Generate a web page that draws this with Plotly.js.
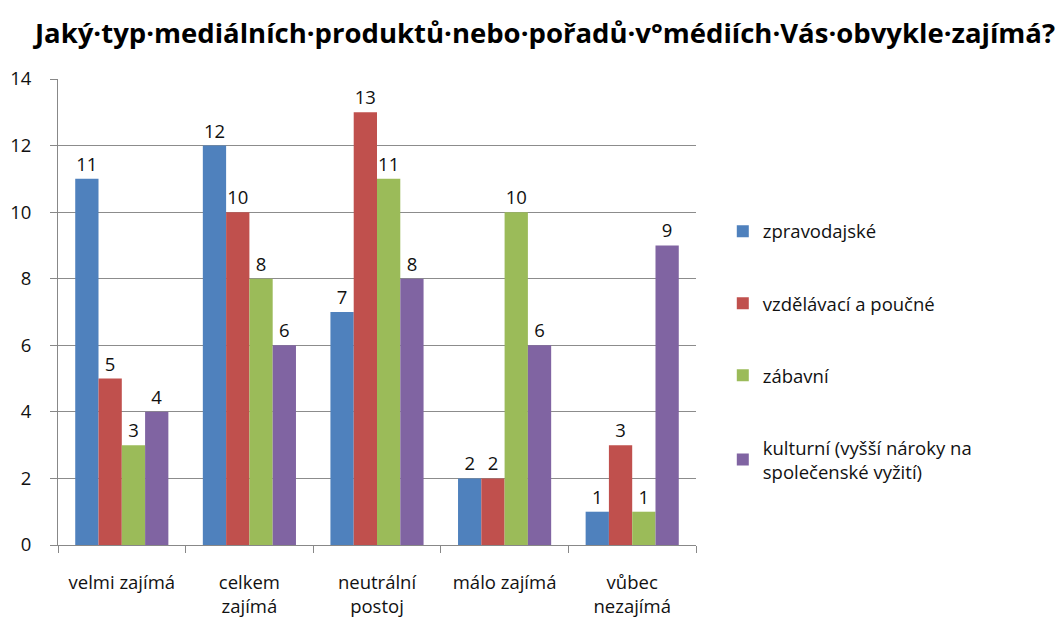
<!DOCTYPE html>
<html><head><meta charset="utf-8">
<script src="https://cdn.plot.ly/plotly-3.0.1.min.js"></script>
<style>body{margin:0;background:#fff}#c{width:1064px;height:622px}</style>
</head><body><div id="c"></div>
<script>
const categories = ["velmi zajímá", "celkem<br>zajímá", "neutrální<br>postoj", "málo zajímá", "vůbec<br>nezajímá"];
const seriesNames = ["zpravodajské", "vzdělávací a poučné", "zábavní", "kulturní (vyšší nároky na<br>společenské vyžití)"];
const zpravodajske = [11, 12, 7, 2, 1];
const vzdelavaci = [5, 10, 13, 2, 3];
const zabavni = [3, 8, 11, 10, 1];
const kulturni = [4, 6, 8, 6, 9];
const colors = ["#4F81BD", "#C0504D", "#9BBB59", "#8064A2"];
const yTicks = [0, 2, 4, 6, 8, 10, 12, 14];

const FONT = "Open Sans, sans-serif";
const FS = 18.5;
const series = [zpravodajske, vzdelavaci, zabavni, kulturni];
const traces = series.map((vals, i) => ({
  type: "bar",
  name: seriesNames[i],
  x: categories,
  y: vals,
  marker: {color: colors[i], line: {width: 0}},
  text: vals.map(String),
  textposition: "outside",
  cliponaxis: false,
  textfont: {family: FONT, size: FS, color: "#111"},
  legendgroup: "g" + i,
  hoverinfo: "none"
}));

const layout = {
  width: 1064, height: 622,
  margin: {l: 58, r: 368, t: 79, b: 77},
  paper_bgcolor: "#fff", plot_bgcolor: "#fff",
  font: {family: FONT, size: FS, color: "#111"},
  title: {text: "Jaký·typ·mediálních·produktů·nebo·pořadů·v°médiích·Vás·obvykle·zajímá?",
          font: {family: FONT, size: 27.5, color: "#000", weight: "bold"},
          x: 545 / 1064, xref: "container", xanchor: "center", y: 0.947, yanchor: "middle"},
  barmode: "group", bargap: 0.27, bargroupgap: 0,
  xaxis: {type: "category", tickson: "boundaries", ticks: "outside", ticklen: 7,
          tickcolor: "#888", showline: true, linecolor: "#888", linewidth: 1,
          ticklabelstandoff: 21,
          showgrid: false, tickfont: {family: FONT, size: FS, color: "#111"}},
  yaxis: {range: [0, 14], tickvals: yTicks, ticks: "outside", ticklen: 7, tickcolor: "#888",
          showline: true, linecolor: "#888", gridcolor: "#8c8c8c", gridwidth: 1,
          ticklabelstandoff: 15,
          zeroline: false, tickfont: {family: FONT, size: FS, color: "#111"}},
  showlegend: true,
  legend: {x: 1.042, xanchor: "left", y: 0.713, yanchor: "top", traceorder: "grouped",
           tracegroupgap: 45, font: {family: FONT, size: FS, color: "#111"},
           itemclick: false, itemdoubleclick: false}
};
Plotly.newPlot("c", traces, layout, {displayModeBar: false, staticPlot: true});
</script></body></html>
